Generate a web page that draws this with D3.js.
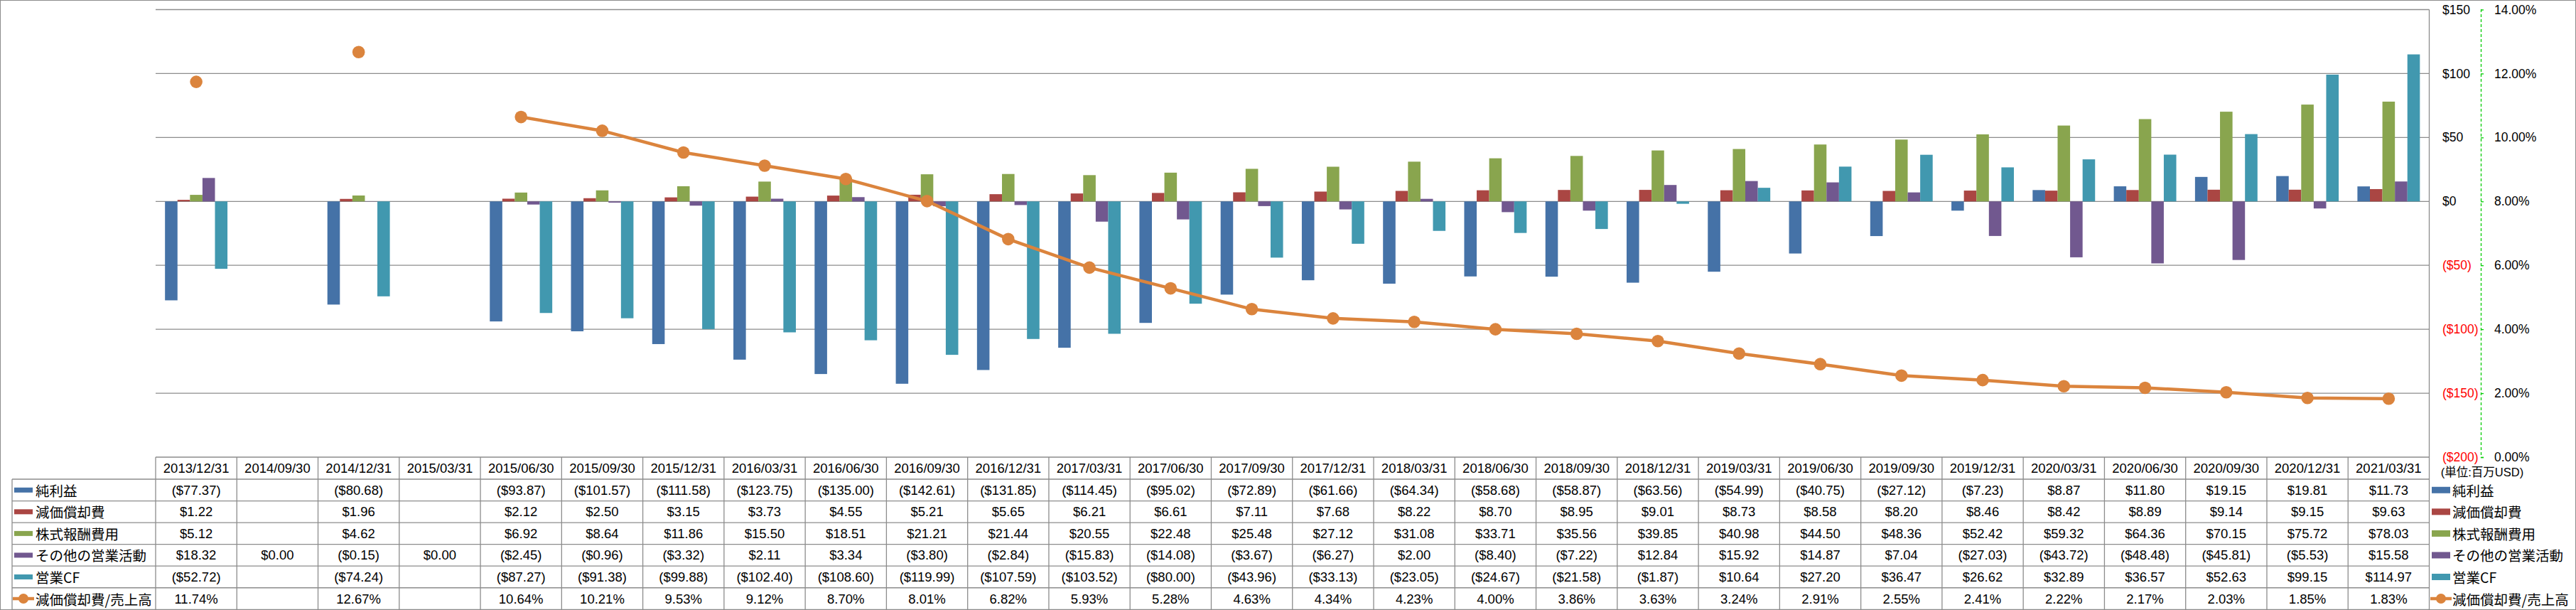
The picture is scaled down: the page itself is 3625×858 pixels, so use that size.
<!DOCTYPE html>
<html>
<head>
<meta charset="utf-8">
<script src="https://cdn.jsdelivr.net/npm/d3@7/dist/d3.min.js"></script>
<style>
  html, body { margin: 0; padding: 0; background: #fff; }
  svg { display: block; }
  text { font-family: "Liberation Sans", Arial, "Noto Sans CJK JP", sans-serif; }
</style>
</head>
<body>
<svg id="chart" width="3625" height="858"></svg>
<script>
// ---------------- DATA ----------------
const categories = ["2013/12/31","2014/09/30","2014/12/31","2015/03/31","2015/06/30","2015/09/30","2015/12/31","2016/03/31","2016/06/30","2016/09/30","2016/12/31","2017/03/31","2017/06/30","2017/09/30","2017/12/31","2018/03/31","2018/06/30","2018/09/30","2018/12/31","2019/03/31","2019/06/30","2019/09/30","2019/12/31","2020/03/31","2020/06/30","2020/09/30","2020/12/31","2021/03/31"];

const seriesNames = ["純利益","減価償却費","株式報酬費用","その他の営業活動","営業CF"];
const ratioName = "減価償却費/売上高";

const netIncome = [-77.37,null,-80.68,null,-93.87,-101.57,-111.58,-123.75,-135.00,-142.61,-131.85,-114.45,-95.02,-72.89,-61.66,-64.34,-58.68,-58.87,-63.56,-54.99,-40.75,-27.12,-7.23,8.87,11.80,19.15,19.81,11.73];
const depreciation = [1.22,null,1.96,null,2.12,2.50,3.15,3.73,4.55,5.21,5.65,6.21,6.61,7.11,7.68,8.22,8.70,8.95,9.01,8.73,8.58,8.20,8.46,8.42,8.89,9.14,9.15,9.63];
const stockComp = [5.12,null,4.62,null,6.92,8.64,11.86,15.50,18.51,21.21,21.44,20.55,22.48,25.48,27.12,31.08,33.71,35.56,39.85,40.98,44.50,48.36,52.42,59.32,64.36,70.15,75.72,78.03];
const otherOps = [18.32,0.00,-0.15,0.00,-2.45,-0.96,-3.32,2.11,3.34,-3.80,-2.84,-15.83,-14.08,-3.67,-6.27,2.00,-8.40,-7.22,12.84,15.92,14.87,7.04,-27.03,-43.72,-48.48,-45.81,-5.53,15.58];
const operatingCF = [-52.72,null,-74.24,null,-87.27,-91.38,-99.88,-102.40,-108.60,-119.99,-107.59,-103.52,-80.00,-43.96,-33.13,-23.05,-24.67,-21.58,-1.87,10.64,27.20,36.47,26.62,32.89,36.57,52.63,99.15,114.97];
const depRatio = [11.74,null,12.67,null,10.64,10.21,9.53,9.12,8.70,8.01,6.82,5.93,5.28,4.63,4.34,4.23,4.00,3.86,3.63,3.24,2.91,2.55,2.41,2.22,2.17,2.03,1.85,1.83];

const leftTicks = [150,100,50,0,-50,-100,-150,-200];
const rightTicks = [14,12,10,8,6,4,2,0];
const unitLabel = "(単位:百万USD)";

// ---------------- STYLE / LAYOUT ----------------
const barColors = ["#4572A7","#AA4643","#89A54E","#71588F","#4198AF"];
const lineColor = "#DB843D";
const gridColor = "#8c8c8c";
const tableColor = "#8c8c8c";

const plotL = 219, plotR = 3418.5, plotT = 13.5, plotB = 643;
const tableTop = plotB, headerB = 674, rowH = 30.55, legendL = 17;

const barSeries = [netIncome, depreciation, stockComp, otherOps, operatingCF];

const svg = d3.select("#chart");

// outer frame
svg.append("rect").attr("x",0.5).attr("y",0.5).attr("width",3624).attr("height",857)
  .attr("fill","#fff").attr("stroke","#8c8c8c").attr("stroke-width",1);

const x0 = d3.scaleBand().domain(categories).range([plotL, plotR]).padding(0);
const bw = x0.bandwidth();
const x1 = d3.scaleBand().domain(seriesNames).range([bw*0.75/6.5, bw*5.75/6.5]).padding(0);
const y = d3.scaleLinear().domain([-200,150]).range([plotB, plotT]);
const y2 = d3.scaleLinear().domain([0,14]).range([plotB, plotT]);

// gridlines
svg.append("g").selectAll("line").data(leftTicks.filter(v => v > -200)).join("line")
  .attr("x1", plotL).attr("x2", plotR)
  .attr("y1", d => y(d)).attr("y2", d => y(d))
  .attr("stroke", gridColor).attr("stroke-width", 1.3);
// plot right border
svg.append("line").attr("x1", plotR).attr("x2", plotR).attr("y1", plotT).attr("y2", plotB)
  .attr("stroke", gridColor).attr("stroke-width", 1.3);

// bars
const barG = svg.append("g");
barSeries.forEach((vals, si) => {
  barG.append("g").attr("fill", barColors[si])
    .selectAll("rect")
    .data(vals.map((v,i) => ({v, c: categories[i]})).filter(d => d.v !== null))
    .join("rect")
    .attr("x", d => x0(d.c) + x1(seriesNames[si]))
    .attr("width", x1.bandwidth())
    .attr("y", d => y(Math.max(0, d.v)))
    .attr("height", d => Math.abs(y(d.v) - y(0)));
});

// line
const lineData = depRatio.map((v,i) => ({v, c: categories[i]}));
const line = d3.line().defined(d => d.v !== null)
  .x(d => x0(d.c) + bw/2).y(d => y2(d.v));
svg.append("path").datum(lineData).attr("d", line)
  .attr("fill","none").attr("stroke", lineColor).attr("stroke-width", 4.5)
  .attr("stroke-linejoin","round");
svg.append("g").selectAll("circle").data(lineData.filter(d => d.v !== null)).join("circle")
  .attr("cx", d => x0(d.c) + bw/2).attr("cy", d => y2(d.v)).attr("r", 8.8)
  .attr("fill", lineColor);

// left value axis (placed on the right)
const fmtAxis = v => v < 0 ? `($${-v})` : `$${v}`;
const axL = svg.append("g").attr("transform", `translate(3437,0)`)
  .call(d3.axisRight(y).tickValues(leftTicks).tickFormat(fmtAxis).tickSize(0).tickPadding(0));
axL.select(".domain").remove();
axL.selectAll("text").attr("font-size", 17.5)
  .attr("fill", d => d < 0 ? "#ff0000" : "#000")
  .style("font-family", '"Liberation Sans", Arial, sans-serif');

// percent axis
const axR = svg.append("g").attr("transform", `translate(3491,0)`)
  .call(d3.axisRight(y2).tickValues(rightTicks).tickFormat(d => d.toFixed(2) + "%").tickSize(4).tickPadding(15));
axR.select(".domain").attr("stroke", "#00cc00").attr("stroke-width", 1.3).attr("stroke-dasharray", "4,3");
axR.selectAll(".tick line").attr("stroke", "#00cc00").attr("stroke-width", 1.3);
axR.selectAll("text").attr("font-size", 17.5).attr("fill", "#000")
  .style("font-family", '"Liberation Sans", Arial, sans-serif');

svg.append("text").attr("x", 3493).attr("y", 664).attr("text-anchor","middle")
  .attr("dominant-baseline","central").attr("font-size", 16.5).text(unitLabel);

// ---------------- DATA TABLE ----------------
const tbl = svg.append("g");
const nRows = 6;
const tableBottom = headerB + rowH * nRows;
// header top line
tbl.append("line").attr("x1", plotL).attr("x2", plotR).attr("y1", tableTop).attr("y2", tableTop)
  .attr("stroke", tableColor).attr("stroke-width", 1.3);
// row lines
d3.range(nRows + 1).forEach(k => {
  const yy = headerB + k * rowH;
  tbl.append("line").attr("x1", legendL).attr("x2", plotR).attr("y1", yy).attr("y2", yy)
    .attr("stroke", tableColor).attr("stroke-width", 1.3);
});
// vertical lines
tbl.append("line").attr("x1", legendL).attr("x2", legendL).attr("y1", headerB).attr("y2", tableBottom)
  .attr("stroke", tableColor).attr("stroke-width", 1.3);
categories.forEach(c => {
  tbl.append("line").attr("x1", x0(c)).attr("x2", x0(c)).attr("y1", tableTop).attr("y2", tableBottom)
    .attr("stroke", tableColor).attr("stroke-width", 1.3);
});
tbl.append("line").attr("x1", plotR).attr("x2", plotR).attr("y1", tableTop).attr("y2", tableBottom)
  .attr("stroke", tableColor).attr("stroke-width", 1.3);

// header labels
tbl.selectAll("text.hdr").data(categories).join("text").attr("class","hdr")
  .attr("x", c => x0(c) + bw/2).attr("y", (tableTop + headerB)/2)
  .attr("text-anchor","middle").attr("dominant-baseline","central")
  .attr("font-size", 18.5).text(c => c);

const fmtVal = v => v === null ? "" : (v < 0 ? `($${(-v).toFixed(2)})` : `$${v.toFixed(2)}`);
const fmtPct = v => v === null ? "" : v.toFixed(2) + "%";
const allRows = barSeries.concat([depRatio]);
const allNames = seriesNames.concat([ratioName]);

allRows.forEach((vals, r) => {
  const cy = headerB + rowH * (r + 0.5);
  tbl.append("g").selectAll("text").data(vals.map((v,i) => ({v, c: categories[i]}))).join("text")
    .attr("x", d => x0(d.c) + bw/2).attr("y", cy)
    .attr("text-anchor","middle").attr("dominant-baseline","central")
    .attr("font-size", 18.5)
    .text(d => r === 5 ? fmtPct(d.v) : fmtVal(d.v));

  // legend keys (left in table and right outside)
  [ {kx: 20, tx: 50, kh: 7}, {kx: 3422, tx: 3451, kh: 9} ].forEach(pos => {
    if (r < 5) {
      tbl.append("rect").attr("x", pos.kx).attr("y", cy - pos.kh/2).attr("width", 26).attr("height", pos.kh)
        .attr("fill", barColors[r]);
    } else {
      tbl.append("line").attr("x1", pos.kx - 2).attr("x2", pos.kx + 28).attr("y1", cy).attr("y2", cy)
        .attr("stroke", lineColor).attr("stroke-width", 4.5);
      tbl.append("circle").attr("cx", pos.kx + 13).attr("cy", cy).attr("r", 7).attr("fill", lineColor);
    }
    tbl.append("text").attr("x", pos.tx).attr("y", cy).attr("dominant-baseline","central")
      .attr("font-size", 19.5).style("font-family", '"Noto Sans CJK JP", "Liberation Sans", sans-serif')
      .text(allNames[r]);
  });
});
</script>
</body>
</html>
